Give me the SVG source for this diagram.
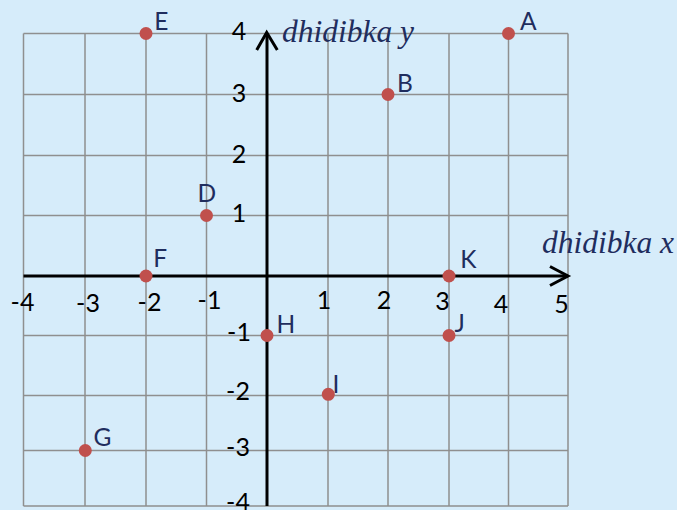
<svg xmlns="http://www.w3.org/2000/svg" width="677" height="510" viewBox="0 0 677 510">
<style>
.grid{stroke:#8f8f8f;stroke-width:1.5;fill:none}
.axis{stroke:#000;stroke-width:3;fill:none}
.tick{font-family:Lato,"Open Sans","Liberation Sans",sans-serif;font-size:25px;fill:#000;text-anchor:middle}
.pt{fill:#c0504d}
.lbl{font-family:Lato,"Open Sans","Liberation Sans",sans-serif;font-size:24.5px;fill:#1f2d5e}
.ax{font-family:"Liberation Serif","DejaVu Serif",serif;font-style:italic;font-size:31.5px;fill:#1f2d5e}
</style>
<rect width="677" height="510" fill="#d6ecfa"/>
<g id="grid">
<path class="grid" d="M23.5 33.5H568M23.5 94.5H568M23.5 155.5H568M23.5 215.5H568M23.5 335.5H568M23.5 395.5H568M23.5 450.5H568M23.5 506H568"/>
<path class="grid" d="M23.5 33.5V506M85 33.5V506M146 33.5V506M206.5 33.5V506M328 33.5V506M388 33.5V506M449 33.5V506M508.5 33.5V506M568 33.5V506"/>
</g>
<g id="axes">
<path class="axis" d="M267 506V34M23.5 276H568"/>
<path class="axis" d="M256.7 50L266.7 32.5L277.3 50M550 266.5L568 276L550 285.5"/>
<text class="ax" x="282" y="42">dhidibka y</text>
<text class="ax" x="542" y="253">dhidibka x</text>
</g>
<g id="ticks">
<text class="tick" x="239" y="39.5">4</text>
<text class="tick" x="239" y="102">3</text>
<text class="tick" x="239" y="162.5">2</text>
<text class="tick" x="239" y="222">1</text>
<text class="tick" x="239" y="341">-1</text>
<text class="tick" x="238" y="400">-2</text>
<text class="tick" x="238" y="456">-3</text>
<text class="tick" x="238" y="511">-4</text>
<text class="tick" x="22.5" y="311">-4</text>
<text class="tick" x="88" y="311.5">-3</text>
<text class="tick" x="149.5" y="311">-2</text>
<text class="tick" x="209.5" y="309">-1</text>
<text class="tick" x="324" y="308.5">1</text>
<text class="tick" x="384" y="308.5">2</text>
<text class="tick" x="442.5" y="309.5">3</text>
<text class="tick" x="501" y="313">4</text>
<text class="tick" x="561.5" y="313">5</text>
</g>
<g id="pA"><circle class="pt" cx="508.5" cy="33.5" r="6.5"/><text class="lbl" x="520" y="30">A</text></g>
<g id="pB"><circle class="pt" cx="388" cy="94.5" r="6.5"/><text class="lbl" x="397" y="91.7">B</text></g>
<g id="pD"><circle class="pt" cx="206.5" cy="215.5" r="6.5"/><text class="lbl" x="197.5" y="201.5">D</text></g>
<g id="pE"><circle class="pt" cx="146" cy="33.5" r="6.5"/><text class="lbl" x="154.3" y="30">E</text></g>
<g id="pF"><circle class="pt" cx="146" cy="276" r="6.5"/><text class="lbl" x="153.3" y="266.5">F</text></g>
<g id="pG"><circle class="pt" cx="85.3" cy="450.5" r="6.5"/><text class="lbl" x="93.5" y="446">G</text></g>
<g id="pH"><circle class="pt" cx="267" cy="335.5" r="6.5"/><text class="lbl" x="276.5" y="332.7">H</text></g>
<g id="pI"><circle class="pt" cx="328.3" cy="394.3" r="6.5"/><text class="lbl" x="332.5" y="392.7">I</text></g>
<g id="pJ"><circle class="pt" cx="449" cy="335.5" r="6.5"/><text class="lbl" x="454.5" y="331.7">J</text></g>
<g id="pK"><circle class="pt" cx="449" cy="276" r="6.5"/><text class="lbl" x="460.3" y="268.3">K</text></g>
</svg>
